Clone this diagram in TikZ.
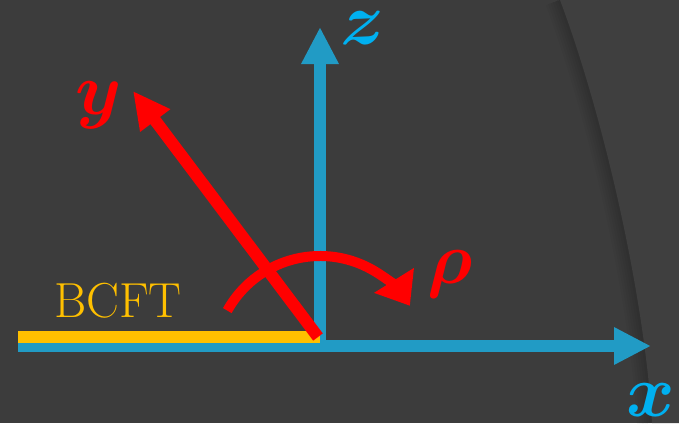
\RequirePackage{fix-cm}
\documentclass[tikz,border=0pt]{standalone}
\usepackage{amsmath, amssymb}
\usepackage{xcolor}
\usepackage{tikz}
\usetikzlibrary{arrows.meta}

\definecolor{bgdark}{HTML}{3C3C3C}
\definecolor{bgright}{HTML}{3F3F3F}
\definecolor{axisblue}{HTML}{219BC5}
\definecolor{lblblue}{HTML}{00B0F0}
\definecolor{bcftyellow}{HTML}{FFC000}

\begin{document}
\begin{tikzpicture}[x=0.2mm, y=0.2mm,
  axis/.style={draw=axisblue, line width=2.4mm, -{Triangle[length=7.4mm, width=7mm]}},
  redarrow/.style={draw=red, line width=2.4mm, -{Triangle[length=7.4mm, width=7mm]}},
  redarc/.style={draw=red, line width=2mm, -{Triangle[length=6mm, width=9mm]}},
  lbl/.style={inner sep=0pt, font=\fontsize{42}{46}\selectfont}
]
  % Hintergrund
  \fill[bgdark] (0,0) rectangle (679,423);
  \useasboundingbox (0,0) rectangle (679,423);
  \foreach \w in {1,2,...,6}
    \draw[black, opacity=0.03, line width=\w mm] (560,423) .. controls (605,303) and (645,123) .. (652,0);
  \fill[bgright] (560,423) .. controls (605,303) and (645,123) .. (652,0) -- (679,0) -- (679,423) -- cycle;

  % Koordinaten
  \coordinate (xstart) at (18,77);
  \coordinate (xend)   at (651,77);
  \coordinate (zstart) at (320,71);
  \coordinate (zend)   at (320,396);
  \coordinate (bstart) at (18,86);
  \coordinate (bend)   at (320,86);
  \coordinate (ystart) at (318,86);
  \coordinate (yend)   at (133,332);
  \coordinate (rhoc)   at (320,61);

  % Achsen
  \draw[axis] (xstart) -- (xend);
  \draw[axis] (zstart) -- (zend);
  \draw[bcftyellow, line width=2.4mm] (bstart) -- (bend);
  \draw[redarrow] (ystart) -- (yend);
  \draw[redarc] ([shift={(151:106)}]rhoc) arc[start angle=151, end angle=32, radius=106];

  % Labels
  \node[lbl, text=lblblue] (zlab) at (363,395) {$\boldsymbol{z}$};
  \node[lbl, text=red] (ylab) at (99,318) {$\boldsymbol{y}$};
  \node[lbl, text=red] (rholab) at (450,149) {$\boldsymbol{\rho}$};
  \node[lbl, text=lblblue] (xlab) at (651,23) {$\boldsymbol{x}$};
  \node[inner sep=0pt, anchor=base, text=bcftyellow, font=\fontsize{28}{31}\selectfont] (bcft) at (118,106) {BCFT};
\end{tikzpicture}
\end{document}
